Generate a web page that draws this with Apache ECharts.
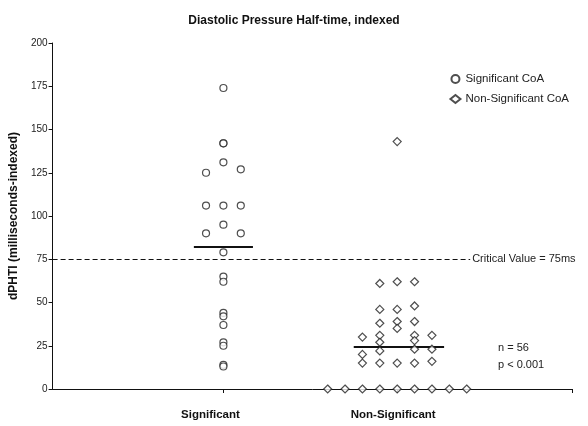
<!DOCTYPE html>
<html>
<head>
<meta charset="utf-8">
<script src="https://cdn.jsdelivr.net/npm/echarts@6/dist/echarts.min.js"></script>
<style>html,body{margin:0;padding:0;background:#fff;}#c{width:588px;height:426px;}</style>
</head>
<body>
<div id="c"></div>
<script>
// Data
const categories = ["Significant", "Non-Significant"];
const categoryPos = [1, 2];
const yTicks = [0, 25, 50, 75, 100, 125, 150, 175, 200];
// [x position (category +/- jitter), dPHTI value]
const significantPoints = [
  [1, 174], [1, 142], [1, 142], [1, 131], [0.9, 125], [1.1, 127],
  [0.9, 106], [1, 106], [1.1, 106], [1, 95], [0.9, 90], [1.1, 90],
  [1, 79], [1, 65], [1, 62], [1, 44], [1, 42], [1, 37],
  [1, 27], [1, 25], [1, 14], [1, 13]
];
const nonSignificantPoints = [
  [2, 143],
  [1.9, 61], [2, 62], [2.1, 62],
  [1.9, 46], [2, 46], [2.1, 48],
  [1.9, 38], [2, 39], [2, 35], [2.1, 39],
  [1.8, 30], [1.9, 31], [1.9, 27], [1.9, 22], [2.1, 31], [2.1, 28], [2.1, 23], [2.2, 31], [2.2, 23],
  [1.8, 20], [1.8, 15], [1.9, 15], [2, 15], [2.1, 15], [2.2, 16],
  [1.6, 0], [1.7, 0], [1.8, 0], [1.9, 0], [2, 0], [2.1, 0], [2.2, 0], [2.3, 0], [2.4, 0]
];
const medianSignificant = [[0.83, 82], [1.17, 82]];
const medianNonSignificant = [[1.75, 24.5], [2.27, 24.5]];
const criticalLine = [[0.017, 75], [2.42, 75]];
const criticalLabel = "Critical Value = 75ms";
const statsText = ["n = 56", "p < 0.001"];

const FONT = "Liberation Sans, Arial, sans-serif";
const chart = echarts.init(document.getElementById('c'), null, {renderer: 'canvas'});
const xMin = 0.017, xMax = 3.006;
const labelKeys = ['a', 'b'];

chart.setOption({
  animation: false,
  backgroundColor: '#fff',
  title: {
    text: 'Diastolic Pressure Half-time, indexed',
    left: 'center', top: 10,
    textStyle: {fontFamily: FONT, fontSize: 12, fontWeight: 'bold', color: '#111'}
  },
  legend: {
    orient: 'vertical', right: 14, top: 68, itemGap: 8,
    itemWidth: 10, itemHeight: 8,
    textStyle: {fontFamily: FONT, fontSize: 11.5, color: '#222'},
    data: ['Significant CoA', 'Non-Significant CoA']
  },
  grid: {left: 52, right: 16, top: 43, bottom: 37},
  xAxis: {
    type: 'value', min: xMin, max: xMax,
    splitLine: {show: false},
    axisLine: {lineStyle: {color: '#111', width: 1}},
    axisTick: {customValues: categoryPos.concat([xMax]), length: 4, lineStyle: {color: '#111'}},
    axisLabel: {
      customValues: categoryPos,
      formatter: v => {
        const i = categoryPos.indexOf(Math.round(v));
        return i < 0 ? '' : '{' + labelKeys[i] + '|' + categories[i] + '}';
      },
      rich: {
        a: {fontFamily: FONT, fontSize: 11.5, fontWeight: 'bold', color: '#111', padding: [0, 26, 0, 0]},
        b: {fontFamily: FONT, fontSize: 11.5, fontWeight: 'bold', color: '#111', padding: [0, 8, 0, 0]}
      },
      fontFamily: FONT, fontSize: 11.5, fontWeight: 'bold', color: '#111', margin: 20
    }
  },
  yAxis: {
    type: 'value', min: 0, max: 200, interval: 25,
    name: 'dPHTI (milliseconds-indexed)',
    nameLocation: 'middle', nameGap: 31,
    nameTextStyle: {fontFamily: FONT, fontSize: 12, fontWeight: 'bold', color: '#111'},
    splitLine: {show: false},
    axisLine: {show: true, lineStyle: {color: '#111', width: 1}},
    axisTick: {show: true, length: 4, lineStyle: {color: '#111'}},
    axisLabel: {fontFamily: FONT, fontSize: 10, color: '#222', margin: 5,
      formatter: v => yTicks.includes(v) ? String(v) : ''}
  },
  series: [
    {
      name: 'Significant CoA', type: 'scatter', symbol: 'circle', symbolSize: 7,
      itemStyle: {color: '#fff', borderColor: '#222', borderWidth: 1.2},
      data: significantPoints, z: 5,
      markLine: {
        silent: true, symbol: 'none',
        lineStyle: {color: '#111', type: 'solid', width: 1.8},
        label: {show: false},
        data: [[{coord: medianSignificant[0]}, {coord: medianSignificant[1]}]]
      }
    },
    {
      name: 'Non-Significant CoA', type: 'scatter', symbol: 'diamond', symbolSize: 8,
      itemStyle: {color: '#fff', borderColor: '#222', borderWidth: 1.2},
      data: nonSignificantPoints, z: 5,
      markLine: {
        silent: true, symbol: 'none',
        lineStyle: {color: '#111', type: 'solid', width: 1.8},
        label: {show: false},
        data: [[{coord: medianNonSignificant[0]}, {coord: medianNonSignificant[1]}]]
      }
    },
    {
      name: 'critical', type: 'line', data: [], silent: true,
      markLine: {
        silent: true, symbol: 'none',
        lineStyle: {color: '#111', type: [5, 3], width: 1.2},
        label: {show: true, position: 'end', formatter: criticalLabel, distance: 2,
          fontFamily: FONT, fontSize: 11, color: '#222'},
        data: [[{coord: criticalLine[0]}, {coord: criticalLine[1]}]]
      }
    }
  ],
  graphic: [{
    type: 'text', left: 498, top: 339,
    style: {text: statsText.join('\n'), font: '11px ' + FONT, fill: '#222', lineHeight: 17}
  }]
});
</script>
</body>
</html>
